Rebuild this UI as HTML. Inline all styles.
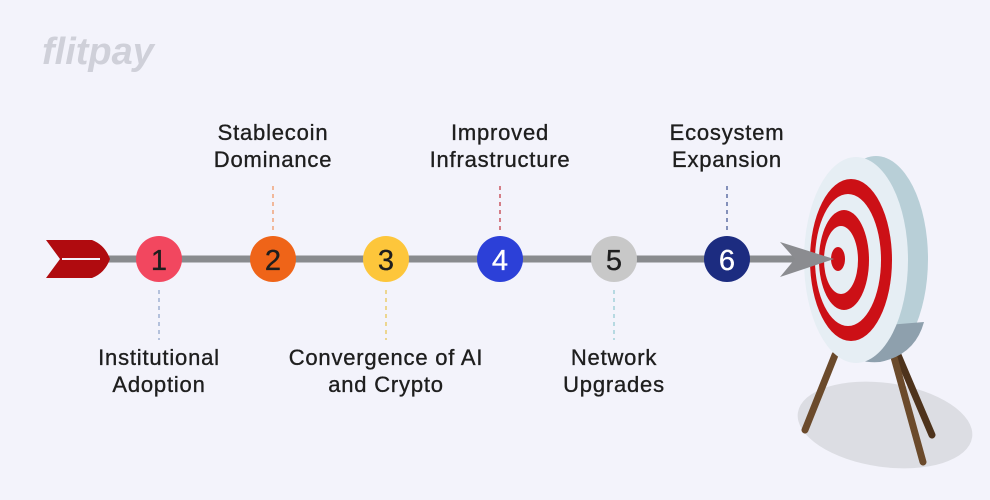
<!DOCTYPE html>
<html><head><style>
body{margin:0;background:#f3f3fb;}
svg{display:block}
text{font-family:"Liberation Sans",sans-serif;font-size:22px;letter-spacing:0.8px;fill:#1e1e1e;stroke:#1e1e1e;stroke-width:0.35;text-anchor:middle}
</style></head><body>
<svg width="990" height="500" viewBox="0 0 990 500">
<rect width="990" height="500" fill="#f3f3fb"/>
<text x="42" y="64" style="font-size:38px;font-weight:bold;font-style:italic;fill:#cfd0d9;stroke:none;text-anchor:start;letter-spacing:0">flitpay</text>
<!-- shadow -->
<ellipse cx="885" cy="425" rx="88" ry="42" fill="#dcdde3" transform="rotate(8 885 425)"/>
<!-- legs -->
<g stroke-linecap="round" stroke-width="7">
<line x1="835" y1="355" x2="805" y2="430" stroke="#6b4a2b"/>
<line x1="898" y1="355" x2="932" y2="435" stroke="#4e331c"/>
<line x1="892" y1="350" x2="923" y2="462" stroke="#6b4a2b"/>
</g>
<!-- target back -->
<ellipse cx="876" cy="259" rx="52" ry="103" fill="#b8cfd7"/>
<path d="M826 330 L924 322 Q915 355 880 362 Q845 365 826 330Z" fill="#8ea0ad"/>
<ellipse cx="856" cy="260" rx="52" ry="103" fill="#e6eef4"/>
<ellipse cx="851" cy="260" rx="41" ry="81" fill="#cc1016"/>
<ellipse cx="848" cy="260" rx="33" ry="66" fill="#e6eef4"/>
<ellipse cx="844" cy="260" rx="25" ry="50" fill="#cc1016"/>
<ellipse cx="841" cy="260" rx="17" ry="34" fill="#e6eef4"/>
<ellipse cx="838" cy="259" rx="7" ry="12" fill="#cc1016"/>
<!-- shaft -->
<line x1="95" y1="259" x2="800" y2="259" stroke="#898b8e" stroke-width="7" stroke-linecap="round"/>
<polygon points="780,242 834,259 780,277 795,259" fill="#8b8c90"/>
<!-- fletching -->
<path d="M46 240 L92 240 Q105 245 110 259 Q105 273 92 278 L46 278 L60 259Z" fill="#b00b0f"/>
<line x1="62" y1="259" x2="100" y2="259" stroke="#f3f3fb" stroke-width="2"/>
<!-- dashed connectors -->
<g stroke-width="1.2" stroke-dasharray="4,4">
<line x1="159" y1="290" x2="159" y2="340" stroke="#8aa0c8"/>
<line x1="386" y1="290" x2="386" y2="340" stroke="#e8c24a"/>
<line x1="614" y1="290" x2="614" y2="340" stroke="#8fc8d0"/>
<line x1="273" y1="186" x2="273" y2="230" stroke="#f0905a"/>
<line x1="500" y1="186" x2="500" y2="230" stroke="#c0303a"/>
<line x1="727" y1="186" x2="727" y2="230" stroke="#3a5090"/>
</g>
<!-- circles -->
<circle cx="159" cy="259" r="23" fill="#f2475f"/><text x="159" y="270" style="font-size:29px;letter-spacing:0">1</text>
<circle cx="273" cy="259" r="23" fill="#ef6418"/><text x="273" y="270" style="font-size:29px;letter-spacing:0">2</text>
<circle cx="386" cy="259" r="23" fill="#fdc63b"/><text x="386" y="270" style="font-size:29px;letter-spacing:0">3</text>
<circle cx="500" cy="259" r="23" fill="#2c40d8"/><text x="500" y="270" style="font-size:29px;letter-spacing:0;fill:#fff;stroke:#fff">4</text>
<circle cx="614" cy="259" r="23" fill="#c8c8c8"/><text x="614" y="270" style="font-size:29px;letter-spacing:0">5</text>
<circle cx="727" cy="259" r="23" fill="#1c2c80"/><text x="727" y="270" style="font-size:29px;letter-spacing:0;fill:#fff;stroke:#fff">6</text>
<!-- labels -->
<text x="273" y="140">Stablecoin</text><text x="273" y="167">Dominance</text>
<text x="500" y="140">Improved</text><text x="500" y="167">Infrastructure</text>
<text x="727" y="140">Ecosystem</text><text x="727" y="167">Expansion</text>
<text x="159" y="365">Institutional</text><text x="159" y="392">Adoption</text>
<text x="386" y="365">Convergence of AI</text><text x="386" y="392">and Crypto</text>
<text x="614" y="365">Network</text><text x="614" y="392">Upgrades</text>
</svg>
</body></html>
